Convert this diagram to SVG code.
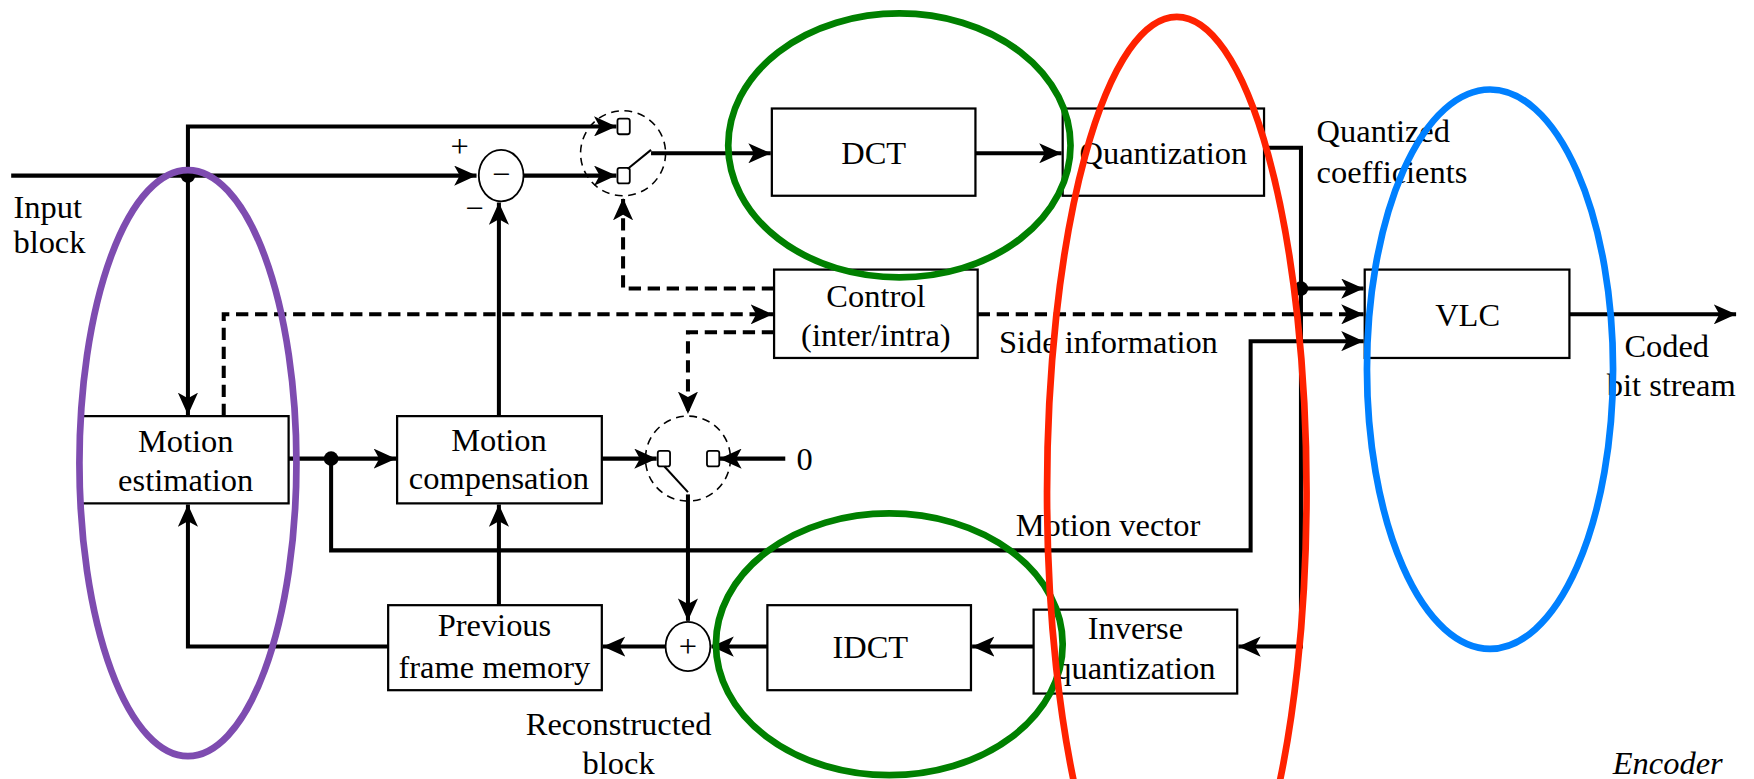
<svg xmlns="http://www.w3.org/2000/svg" width="1754" height="779" viewBox="0 0 1754 779">
<style>
.box{fill:#fff;stroke:#000;stroke-width:2}
.t{font-family:"Liberation Serif","Times New Roman",serif;font-size:29px;fill:#000}
.c{text-anchor:middle}
.ln{fill:none;stroke:#000;stroke-width:3.6}
.dl{fill:none;stroke:#000;stroke-width:3.6;stroke-dasharray:11 6}
.sw{fill:none;stroke:#000;stroke-width:1.4;stroke-dasharray:7 5}
.term{fill:#fff;stroke:#000;stroke-width:1.6}
.ring{fill:#fff;stroke:#000;stroke-width:1.6}
.hl{fill:none;stroke-width:6}
</style>
<defs>
<marker id="ah" markerUnits="userSpaceOnUse" markerWidth="22" markerHeight="18" refX="20" refY="9" orient="auto">
<path d="M0,0 L20,9 L0,18 L5,9 z" fill="#000"/>
</marker>
</defs>
<rect width="1754" height="779" fill="#fff"/>
<g transform="scale(1.118622)">
<g id="connectors">
<path class="ln" d="M10,157 H426" marker-end="url(#ah)"/>
<path class="ln" d="M168,157 V113 H551" marker-end="url(#ah)"/>
<path class="ln" d="M468,157 H551" marker-end="url(#ah)"/>
<path class="ln" d="M168,157 V371" marker-end="url(#ah)"/>
<path class="ln" d="M582,137 H689" marker-end="url(#ah)"/>
<path class="ln" d="M872,137 H949" marker-end="url(#ah)"/>
<path class="ln" d="M1130,132 H1163 V578 H1107" marker-end="url(#ah)"/>
<path class="ln" d="M1163,258 H1219" marker-end="url(#ah)"/>
<path class="dl" d="M874,281 H1219" marker-end="url(#ah)"/>
<path class="ln" d="M296,410 V492 H1118 V305 H1219" marker-end="url(#ah)"/>
<path class="ln" d="M1403,281 H1552" marker-end="url(#ah)"/>
<path class="dl" d="M692,258 H557 V177" marker-end="url(#ah)"/>
<path class="dl" d="M200,372 V281 H691" marker-end="url(#ah)"/>
<path class="dl" d="M692,297 H615 V370" marker-end="url(#ah)"/>
<path class="ln" d="M258,410 H354" marker-end="url(#ah)"/>
<path class="ln" d="M446,372 V181" marker-end="url(#ah)"/>
<path class="ln" d="M538,410 H587" marker-end="url(#ah)"/>
<path class="ln" d="M702,410 H643" marker-end="url(#ah)"/>
<path class="ln" d="M615,442 V555" marker-end="url(#ah)"/>
<path class="ln" d="M924,578 H869" marker-end="url(#ah)"/>
<path class="ln" d="M686,578 H636" marker-end="url(#ah)"/>
<path class="ln" d="M595,578 H539" marker-end="url(#ah)"/>
<path class="ln" d="M446,541 V451" marker-end="url(#ah)"/>
<path class="ln" d="M347,578 H168 V451" marker-end="url(#ah)"/>
<circle cx="168" cy="157" r="6.5"/>
<circle cx="296" cy="410" r="6.5"/>
<circle cx="1163" cy="258" r="6.5"/>
</g>
<g id="subtract">
<ellipse class="ring" cx="448" cy="157" rx="20" ry="23"/>
<text class="t c" x="448" y="165">−</text>
<text class="t c" x="411" y="140">+</text>
<text class="t c" x="424" y="196">−</text>
</g>
<g id="switch1">
<circle class="sw" cx="557" cy="137" r="38"/>
<rect class="term" x="552" y="106" width="11" height="14" rx="2"/>
<rect class="term" x="552" y="150" width="11" height="14" rx="2"/>
<path class="ln" style="stroke-width:1.8" d="M561,151 L582,134"/>
</g>
<g id="dct">
<rect class="box" x="690" y="97" width="182" height="78"/>
<text class="t c" x="781" y="147">DCT</text>
</g>
<g id="quant">
<rect class="box" x="950" y="97" width="180" height="78"/>
<text class="t c" x="1040" y="147">Quantization</text>
</g>
<g id="control">
<rect class="box" x="692" y="241" width="182" height="79"/>
<text class="t c" x="783" y="274">Control</text>
<text class="t c" x="783" y="309">(inter/intra)</text>
</g>
<g id="vlc">
<rect class="box" x="1220" y="241" width="183" height="79"/>
<text class="t c" x="1312" y="291">VLC</text>
</g>
<g id="me">
<rect class="box" x="72" y="372" width="186" height="78"/>
<text class="t c" x="166" y="404">Motion</text>
<text class="t c" x="166" y="439">estimation</text>
</g>
<g id="mc">
<rect class="box" x="355" y="372" width="183" height="78"/>
<text class="t c" x="446" y="403">Motion</text>
<text class="t c" x="446" y="437">compensation</text>
</g>
<g id="switch2">
<circle class="sw" cx="615" cy="410" r="38"/>
<rect class="term" x="588" y="403" width="11" height="14" rx="2"/>
<rect class="term" x="632" y="403" width="11" height="14" rx="2"/>
<path class="ln" style="stroke-width:1.8" d="M594,417 L615,440"/>
<text class="t" x="712" y="420">0</text>
</g>
<g id="adder">
<ellipse class="ring" cx="615" cy="578" rx="20" ry="22"/>
<text class="t c" x="615" y="587">+</text>
</g>
<g id="pfm">
<rect class="box" x="347" y="541" width="191" height="76"/>
<text class="t c" x="442" y="569">Previous</text>
<text class="t c" x="442" y="606">frame memory</text>
</g>
<g id="idct">
<rect class="box" x="686" y="541" width="182" height="76"/>
<text class="t c" x="778" y="588">IDCT</text>
</g>
<g id="iq">
<rect class="box" x="924" y="545" width="182" height="75"/>
<text class="t c" x="1015" y="571">Inverse</text>
<text class="t c" x="1015" y="607">quantization</text>
</g>
<g id="labels">
<text class="t" x="12" y="195">Input</text>
<text class="t" x="12" y="226">block</text>
<text class="t" x="1177" y="127">Quantized</text>
<text class="t" x="1177" y="164">coefficients</text>
<text class="t" x="893" y="316">Side information</text>
<text class="t" x="908" y="479">Motion vector</text>
<text class="t c" x="1490" y="319">Coded</text>
<text class="t c" x="1494" y="354">bit stream</text>
<text class="t c" x="553" y="657">Reconstructed</text>
<text class="t c" x="553" y="692">block</text>
<text class="t" x="1540" y="692" text-anchor="end" font-style="italic">Encoder</text>
</g>
<g id="highlights">
<ellipse class="hl" stroke="#7e4cb0" cx="168" cy="414" rx="97" ry="262"/>
<ellipse class="hl" stroke="#008000" cx="804" cy="130" rx="153" ry="118"/>
<ellipse class="hl" stroke="#008000" cx="795" cy="576" rx="155" ry="117"/>
<ellipse class="hl" stroke="#ff2200" cx="1052" cy="440" rx="116" ry="425"/>
<ellipse class="hl" stroke="#0080ff" cx="1332" cy="330" rx="110" ry="250"/>
</g>
</g>
</svg>
